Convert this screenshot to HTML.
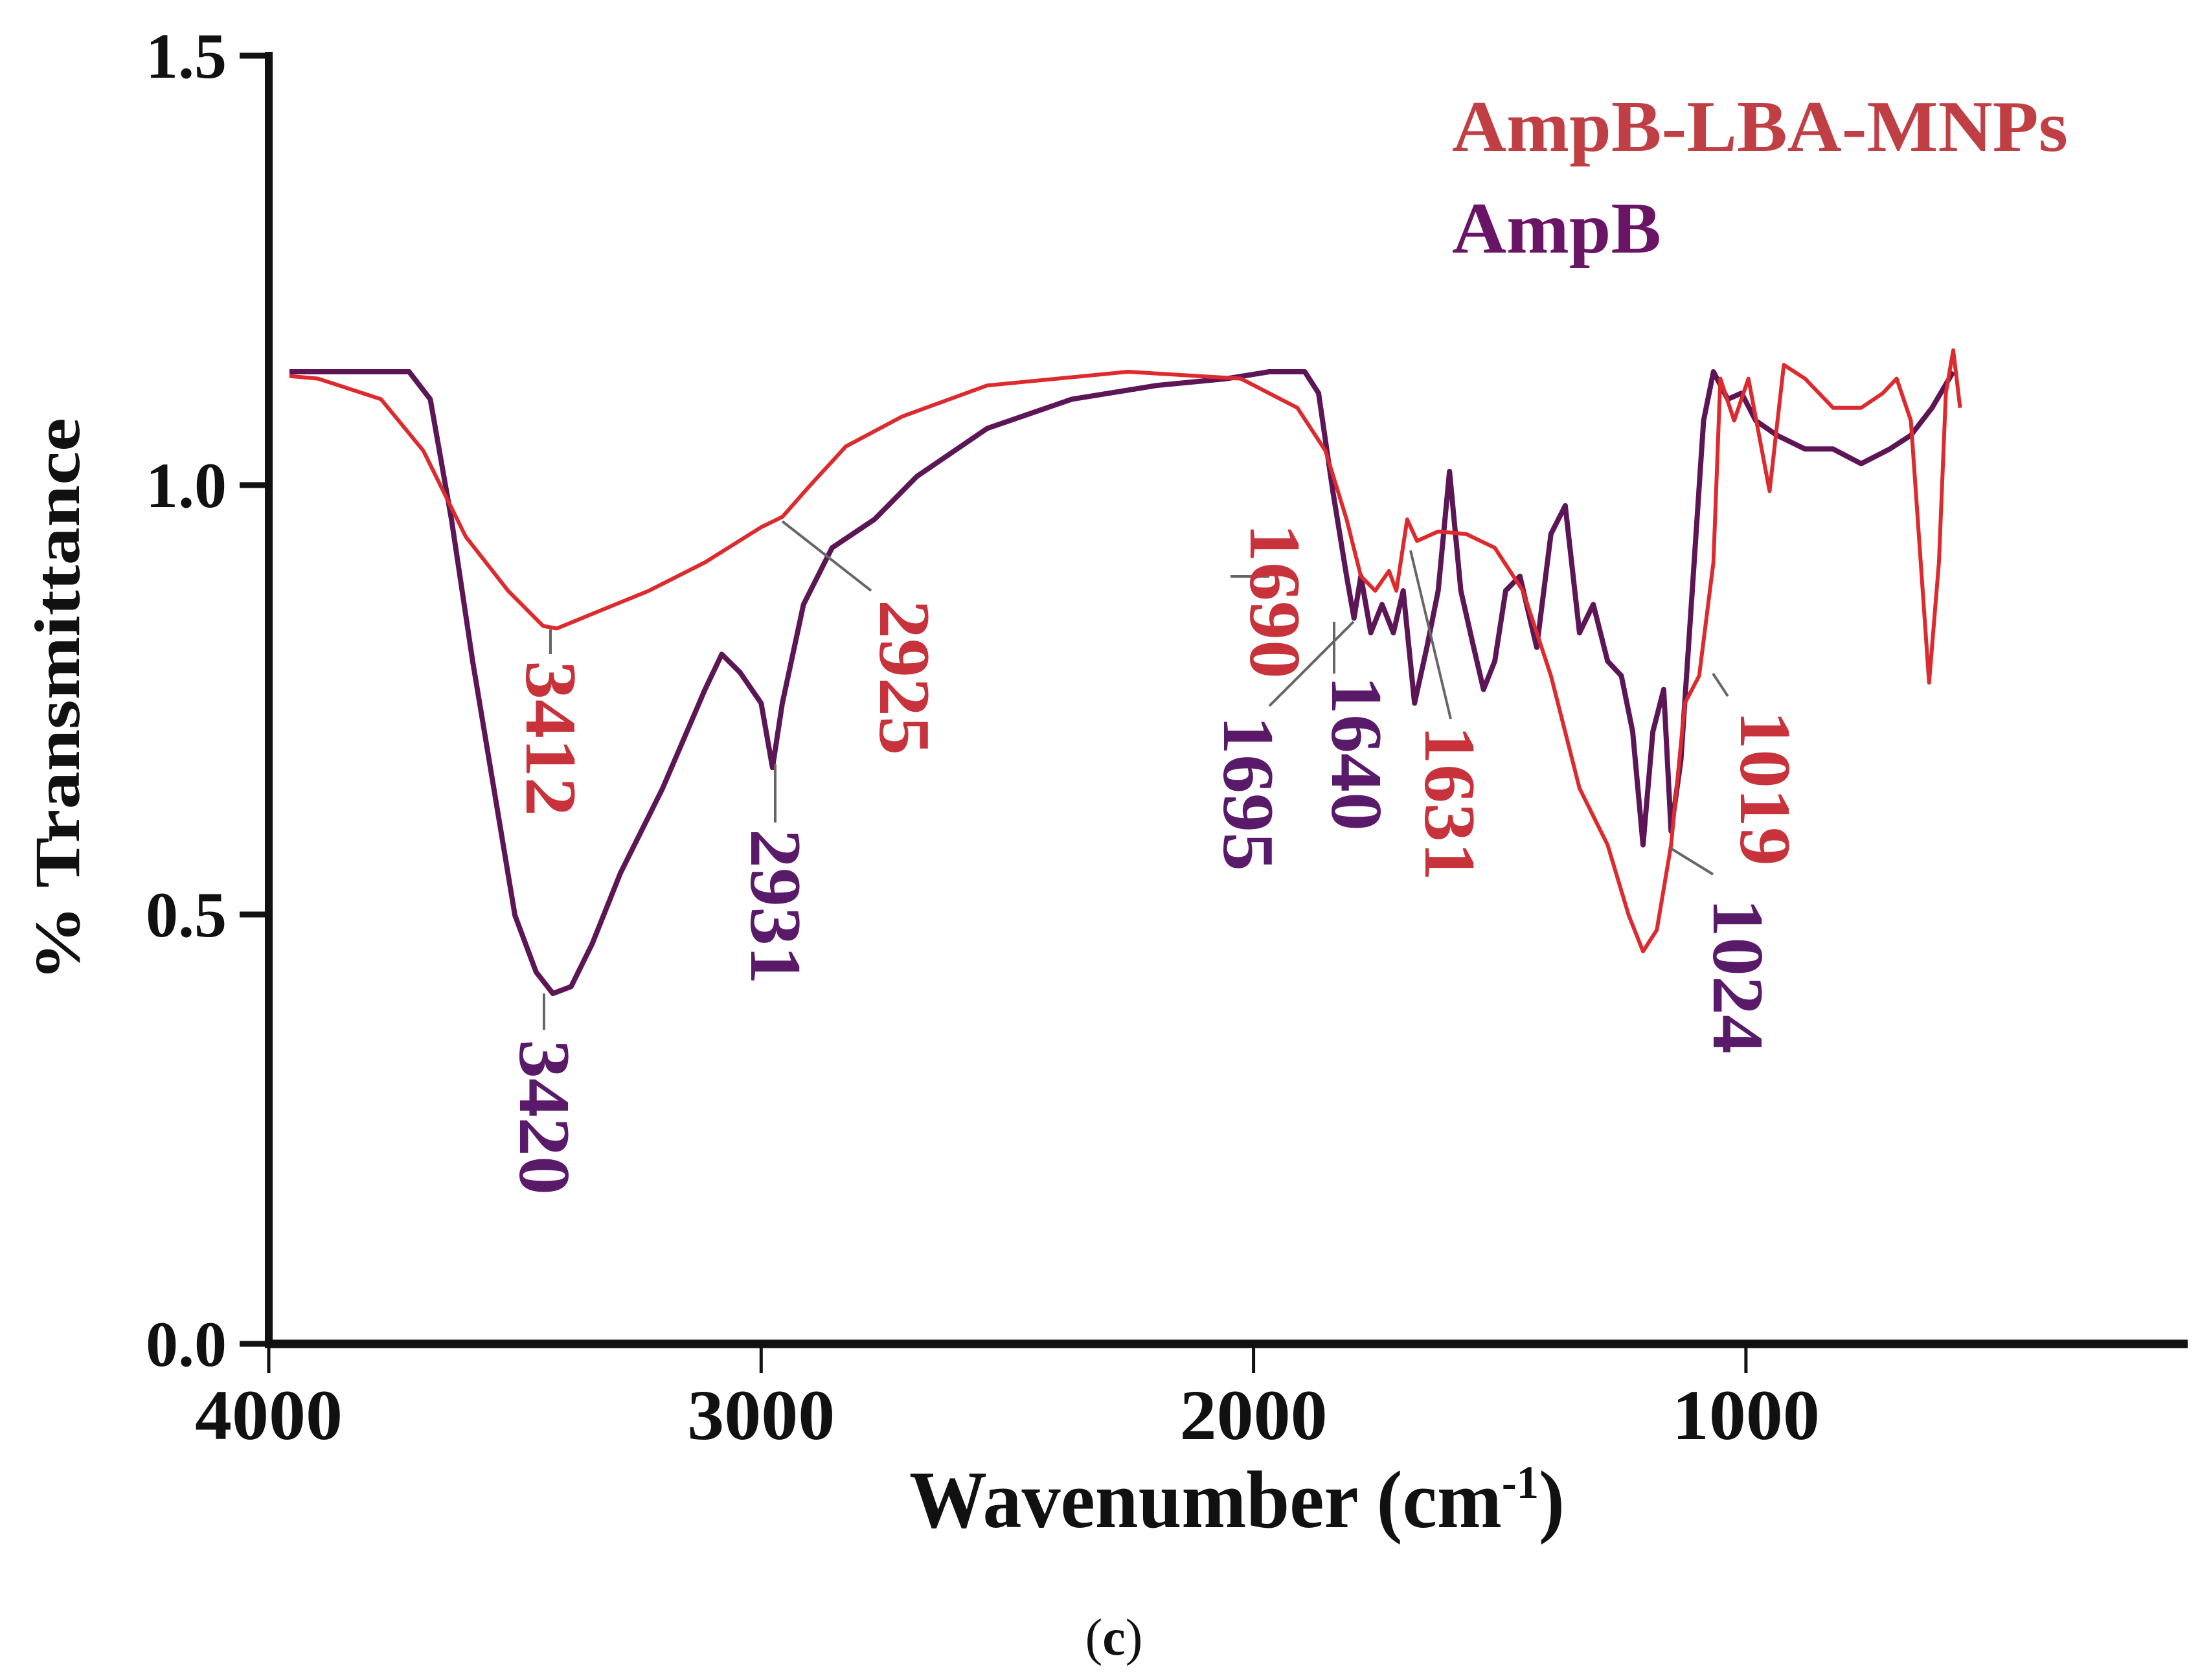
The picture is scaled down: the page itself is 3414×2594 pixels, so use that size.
<!DOCTYPE html>
<html><head><meta charset="utf-8"><style>
html,body{margin:0;padding:0;background:#fff;}
svg{display:block;font-family:"Liberation Serif",serif;}
</style></head><body>
<svg id="chart" width="3414" height="2594" viewBox="0 0 3414 2594">
<g id="axes"></g>
<g id="series"></g>
<g id="labels"></g>
<text x="2242" y="233" font-size="112" font-weight="bold" fill="#bf3f45" textLength="951" lengthAdjust="spacingAndGlyphs">AmpB-LBA-MNPs</text>
<text x="2242" y="390" font-size="112" font-weight="bold" fill="#6a1466" textLength="323" lengthAdjust="spacingAndGlyphs">AmpB</text>
<text x="1404" y="2358" font-size="126" font-weight="bold" fill="#111" textLength="1012" lengthAdjust="spacingAndGlyphs">Wavenumber (cm<tspan dy="-45" font-size="72">-1</tspan><tspan dy="45">)</tspan></text>
<text transform="translate(122,1080) rotate(-90)" text-anchor="middle" font-size="100" font-weight="bold" fill="#111" textLength="870" lengthAdjust="spacingAndGlyphs">% Transmittance</text>
<text x="1720" y="2555" text-anchor="middle" font-size="80" fill="#111">(<tspan font-weight="bold">c</tspan>)</text>
</svg>
<script>
const xTicks = [4000, 3000, 2000, 1000];
const yTicks = [0.0, 0.5, 1.0, 1.5];
const yTickLabels = ["0.0", "0.5", "1.0", "1.5"];
const redWn = [3958,3900,3772,3686,3600,3514,3443,3415,3343,3228,3114,3000,2957,2900,2828,2713,2541,2255,2026,1911,1854,1811,1782,1753,1725,1710,1688,1668,1625,1568,1510,1453,1396,1338,1281,1238,1209,1181,1152,1124,1095,1066,1052,1024,995,952,923,880,823,766,722,694,665,645,628,608,594,579,565];
const redT = [1.127,1.124,1.10,1.04,0.94,0.877,0.836,0.833,0.85,0.877,0.91,0.951,0.963,1.0,1.045,1.08,1.116,1.132,1.124,1.09,1.04,0.96,0.894,0.877,0.9,0.877,0.96,0.935,0.946,0.943,0.927,0.877,0.778,0.647,0.581,0.499,0.457,0.482,0.581,0.746,0.778,0.91,1.124,1.075,1.124,0.993,1.14,1.124,1.09,1.09,1.107,1.124,1.075,0.91,0.77,0.91,1.107,1.157,1.09];
const purWn = [3958,3715,3672,3629,3586,3543,3500,3457,3423,3386,3343,3286,3200,3114,3080,3043,3000,2977,2957,2914,2856,2770,2684,2541,2369,2197,2054,1968,1896,1868,1839,1811,1796,1782,1762,1739,1716,1696,1673,1648,1625,1602,1579,1553,1533,1510,1488,1459,1425,1396,1367,1338,1310,1281,1253,1230,1209,1189,1167,1152,1132,1109,1086,1066,1037,1009,980,937,880,823,766,708,665,622,579];
const purT = [1.132,1.132,1.1,0.96,0.795,0.647,0.499,0.433,0.408,0.416,0.466,0.548,0.647,0.762,0.803,0.782,0.746,0.671,0.746,0.861,0.927,0.96,1.01,1.066,1.1,1.116,1.124,1.132,1.132,1.107,0.993,0.894,0.845,0.894,0.828,0.861,0.828,0.877,0.746,0.811,0.877,1.016,0.877,0.811,0.762,0.795,0.877,0.894,0.811,0.943,0.976,0.828,0.861,0.795,0.778,0.713,0.581,0.713,0.762,0.597,0.68,0.877,1.075,1.132,1.1,1.107,1.075,1.058,1.042,1.042,1.025,1.042,1.058,1.09,1.132];
const peakText = ["3412","3420","2931","2925","1690","1695","1640","1631","1019","1024"];
const peakColor = ["#c8323a","#5a1a6a","#5a1a6a","#c8323a","#c8323a","#5a1a6a","#5a1a6a","#c8323a","#c8323a","#5a1a6a"];
const peakX = [850,840,1197,1396,1968,1927,2094,2238,2725,2683];
const peakY = [1140,1725,1400,1046,928,1225,1163,1240,1217,1507];

const NS = "http://www.w3.org/2000/svg";
function X(wn){ return 415 + (4000 - wn) * 0.7603; }
function Y(t){ return 2075 - t * 1326; }
function mk(tag, attrs, parent){ const e = document.createElementNS(NS, tag); for (const k in attrs) e.setAttribute(k, attrs[k]); parent.appendChild(e); return e; }
const axes = document.getElementById('axes');
let e;
e = mk('line', {x1:415, y1:Y(1.5)-6, x2:415, y2:2081, stroke:'#111', 'stroke-width':12}, axes);


e = mk('line', {x1:409, y1:2075, x2:3378, y2:2075, stroke:'#111', 'stroke-width':13}, axes);


yTicks.forEach((v, i) => {
  let t = mk('line', {x1:370, y1:Y(v), x2:415, y2:Y(v), stroke:'#111', 'stroke-width':9}, axes);
  
  
  let l = mk('text', {x:350, y:Y(v)+34, 'text-anchor':'end', 'font-size':100, 'font-weight':'bold', fill:'#111'}, axes);
  l.textContent = yTickLabels[i];
  
  
});
xTicks.forEach(v => {
  let t = mk('line', {x1:X(v), y1:2075, x2:X(v), y2:2120, stroke:'#111', 'stroke-width':5}, axes);
  
  
  let l = mk('text', {x:X(v), y:2222, 'text-anchor':'middle', 'font-size':110, 'font-weight':'bold', fill:'#111', textLength:228, lengthAdjust:'spacingAndGlyphs'}, axes);
  l.textContent = String(v);
  
  
});
const series = document.getElementById('series');
function path(wn, t){ return wn.map((w, i) => (i ? 'L' : 'M') + X(w).toFixed(1) + ',' + Y(t[i]).toFixed(1)).join(' '); }
e = mk('path', {d:path(purWn, purT), fill:'none', stroke:'#5c1656', 'stroke-width':8, 'stroke-linejoin':'round'}, series);


e = mk('path', {d:path(redWn, redT), fill:'none', stroke:'#dd2a2e', 'stroke-width':6, 'stroke-linejoin':'round'}, series);


const labels = document.getElementById('labels');
const leaders = [[1208,805,1345,912],[2090,960,1960,1090],[2178,850,2240,1110],[2645,1040,2668,1075],[2580,1310,2645,1350],[1900,890,1960,890],[2060,960,2060,1040],[850,972,850,1010],[840,1534,840,1590],[1197,1180,1197,1270]];
leaders.forEach(s => {
  let l = mk('line', {x1:s[0], y1:s[1], x2:s[2], y2:s[3], stroke:'#666', 'stroke-width':4}, labels);
  
  
});
peakText.forEach((txt, i) => {
  let t = mk('text', {transform:'translate(' + peakX[i] + ',' + peakY[i] + ') rotate(90)', 'text-anchor':'middle', 'dominant-baseline':'central', 'font-size':112, 'font-weight':'bold', fill:peakColor[i], textLength:240, lengthAdjust:'spacingAndGlyphs'}, labels);
  t.textContent = txt;
  
  
});
</script>
</body></html>
